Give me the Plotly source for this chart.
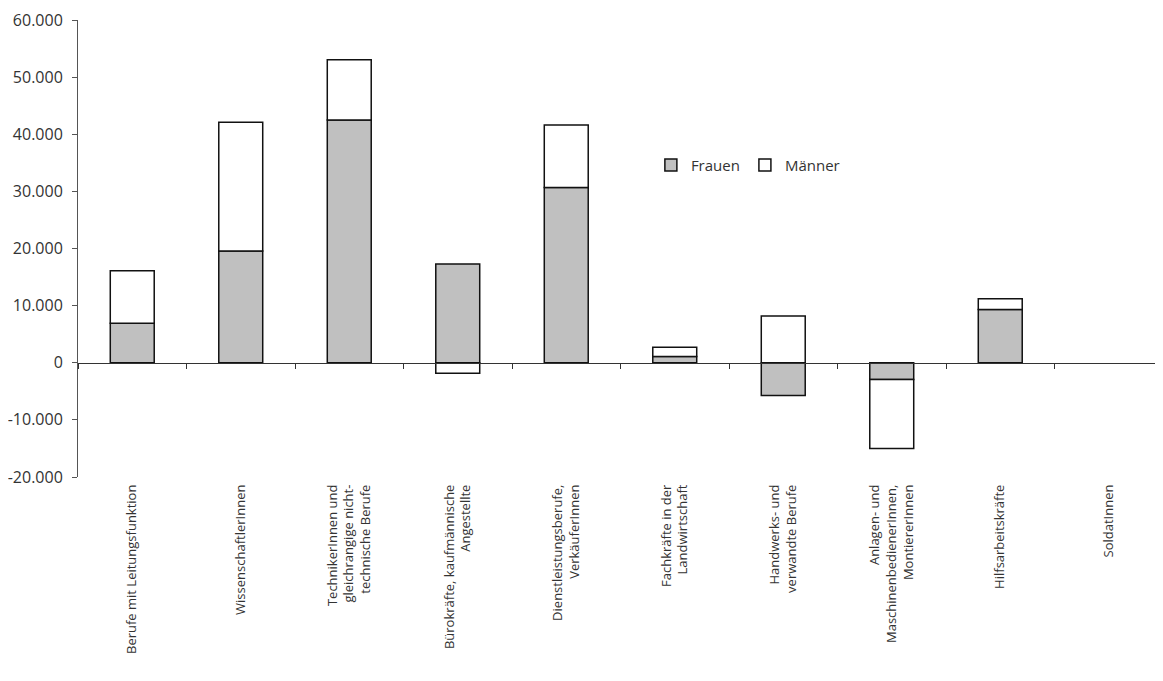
import plotly.graph_objects as go

categories = [
    "Berufe mit Leitungsfunktion",
    "WissenschaftlerInnen",
    "TechnikerInnen und<br>gleichrangige nicht-<br>technische Berufe",
    "Bürokräfte, kaufmännische<br>Angestellte",
    "Dienstleistungsberufe,<br>VerkäuferInnen",
    "Fachkräfte in der<br>Landwirtschaft",
    "Handwerks- und<br>verwandte Berufe",
    "Anlagen- und<br>MaschinenbedienerInnen,<br>MontiererInnen",
    "Hilfsarbeitskräfte",
    "SoldatInnen",
]
frauen = [6900, 19550, 42500, 17280, 30680, 1080, -5730, -2940, 9300, None]
maenner = [9200, 22550, 10550, -1840, 10960, 1630, 8180, -12060, 1920, None]
ytick_vals = [-20000, -10000, 0, 10000, 20000, 30000, 40000, 50000, 60000]
ytick_text = ["-20.000", "-10.000", "0", "10.000", "20.000", "30.000", "40.000", "50.000", "60.000"]

FONT = "Open Sans"
TXT = "#333333"

fig = go.Figure()
fig.add_trace(go.Bar(
    name="Frauen", x=categories, y=frauen,
    marker=dict(color="#c0c0c0", line=dict(color="#111111", width=1.5)),
))
fig.add_trace(go.Bar(
    name="Männer", x=categories, y=maenner,
    marker=dict(color="#ffffff", line=dict(color="#111111", width=1.5)),
))
# invisible helper trace for the zero-line axis
fig.add_trace(go.Scatter(
    x=categories, y=[0] * len(categories), xaxis="x2", mode="markers",
    marker=dict(opacity=0), showlegend=False, hoverinfo="skip",
))

fig.update_layout(
    width=1155, height=673,
    margin=dict(l=70, r=0, t=11.5, b=204, autoexpand=False),
    paper_bgcolor="white", plot_bgcolor="white",
    barmode="relative", bargap=0.595,
    font=dict(family=FONT, color=TXT, size=13),
    showlegend=True,
    legend=dict(
        orientation="h", x=0.528, y=0.682, xanchor="left", yanchor="middle",
        font=dict(size=15, family=FONT, color=TXT),
        bgcolor="rgba(0,0,0,0)", itemwidth=30, tracegroupgap=0,
    ),
    xaxis=dict(
        type="category", range=[-0.5, 9.5],
        showline=False, ticks="", showgrid=False, zeroline=False,
        tickangle=-90, tickfont=dict(size=13, family=FONT, color=TXT),
        ticklabelstandoff=4,
    ),
    xaxis2=dict(
        type="category", range=[-0.5, 9.5], overlaying="x",
        anchor="free", position=0.25,
        showline=True, linecolor="#333333", linewidth=1,
        ticks="outside", tickson="boundaries", ticklen=5, tickcolor="#333333",
        showticklabels=False, showgrid=False, zeroline=False,
    ),
    yaxis=dict(
        range=[-20000, 60000],
        tickvals=ytick_vals, ticktext=ytick_text,
        showline=True, linecolor="#555555", linewidth=1,
        ticks="outside", ticklen=5, tickcolor="#555555",
        showgrid=False, zeroline=False,
        tickfont=dict(size=16, family=FONT, color=TXT),
        ticklabelstandoff=6,
    ),
)

fig.write_html("out.html")
